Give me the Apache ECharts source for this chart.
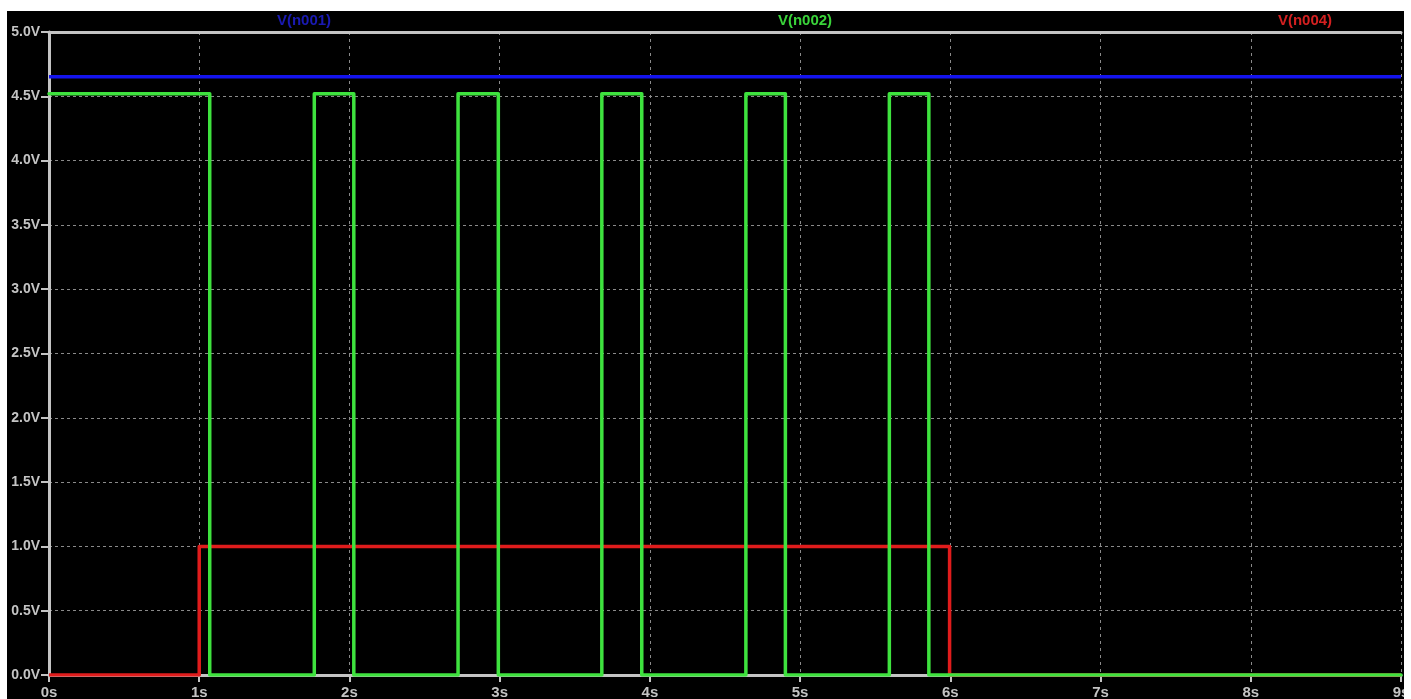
<!DOCTYPE html>
<html>
<head>
<meta charset="utf-8">
<title>V(n001) V(n002) V(n004)</title>
<script src="https://cdn.jsdelivr.net/npm/echarts@6/dist/echarts.min.js"></script>
<style>
  html, body { margin: 0; padding: 0; background: #fff; overflow: hidden; }
  #myChart { position: absolute; left: 7px; top: 11px; width: 1397px; height: 688px; }
</style>
</head>
<body>
<div id="myChart"></div>
<script>
  // values (time in s, voltage in V)
  const xTicks = [0, 1, 2, 3, 4, 5, 6, 7, 8, 9];
  const yTicks = [0, 0.5, 1, 1.5, 2, 2.5, 3, 3.5, 4, 4.5, 5];

  const n001Times = [0, 9];
  const n001Volts = [4.652, 4.652];

  // V(n002): switching instants, level held until the next instant
  const n002Times = [0, 1.07, 1.766, 2.029, 2.723, 2.991, 3.68, 3.946, 4.639, 4.902, 5.594, 5.857, 9];
  const n002Volts = [4.52, 0, 4.52, 0, 4.52, 0, 4.52, 0, 4.52, 0, 4.52, 0, 0];

  const n004Times = [0, 1.0, 5.995, 9];
  const n004Volts = [0, 1.0, 0, 0];

  const pairs = (t, v) => t.map((x, i) => [x, v[i]]);

  const gray = '#c4c4c4';
  const labelFont = 'Liberation Sans';

  let myChart = echarts.init(document.getElementById('myChart'));
  myChart.setOption({
    backgroundColor: '#000',
    animation: false,
    title: [
      { text: 'V(n001)', left: 292, top: -3, textAlign: 'center',
        textStyle: { color: '#1a1ab4', fontSize: 15, fontWeight: 'bold', fontFamily: labelFont } },
      { text: 'V(n002)', left: 793, top: -3, textAlign: 'center',
        textStyle: { color: '#3ad43a', fontSize: 15, fontWeight: 'bold', fontFamily: labelFont } },
      { text: 'V(n004)', left: 1293, top: -3, textAlign: 'center',
        textStyle: { color: '#d42020', fontSize: 15, fontWeight: 'bold', fontFamily: labelFont } }
    ],
    grid: { left: 42, right: 3, top: 21, bottom: 24, outerBoundsMode: 'none' },
    xAxis: [
      {
        type: 'value',
        min: xTicks[0],
        max: xTicks[xTicks.length - 1],
        interval: 1,
        axisLine: { lineStyle: { color: gray, width: 3 } },
        axisTick: { length: 7, lineStyle: { color: gray, width: 2 } },
        axisLabel: {
          color: gray, fontSize: 15, fontWeight: 'bold', fontFamily: labelFont, margin: 10,
          formatter: v => v + 's', showMaxLabel: true, hideOverlap: false
        },
        splitLine: { show: true, lineStyle: { color: '#8a8a8a', width: 1, type: [3, 4] } }
      },
      {
        // top frame line
        type: 'value', position: 'top',
        min: 0, max: 9,
        axisLine: { show: true, onZero: false, lineStyle: { color: gray, width: 3 } },
        axisTick: { show: false },
        axisLabel: { show: false },
        splitLine: { show: false }
      }
    ],
    yAxis: {
      type: 'value',
      min: yTicks[0],
      max: yTicks[yTicks.length - 1],
      interval: 0.5,
      axisLine: { show: true, lineStyle: { color: gray, width: 3 } },
      axisTick: { show: true, length: 8, lineStyle: { color: gray, width: 2 } },
      axisLabel: {
        color: gray, fontSize: 14, fontWeight: 'bold', fontFamily: labelFont, margin: 9,
        formatter: v => v.toFixed(1) + 'V'
      },
      splitLine: { show: true, lineStyle: { color: '#8a8a8a', width: 1, type: [3, 3] } }
    },
    series: [
      {
        name: 'V(n001)',
        type: 'line',
        showSymbol: false,
        z: 3,
        lineStyle: { color: '#1414ee', width: 3.5 },
        data: pairs(n001Times, n001Volts)
      },
      {
        name: 'V(n002)',
        type: 'line',
        step: 'end',
        showSymbol: false,
        z: 4,
        lineStyle: { color: '#3ee23e', width: 3.5, join: 'round', cap: 'round' },
        data: pairs(n002Times, n002Volts)
      },
      {
        name: 'V(n004)',
        type: 'line',
        step: 'end',
        showSymbol: false,
        z: 3,
        lineStyle: { color: '#e01c1c', width: 3.5, join: 'round' },
        data: pairs(n004Times, n004Volts)
      }
    ]
  });
</script>
</body>
</html>
